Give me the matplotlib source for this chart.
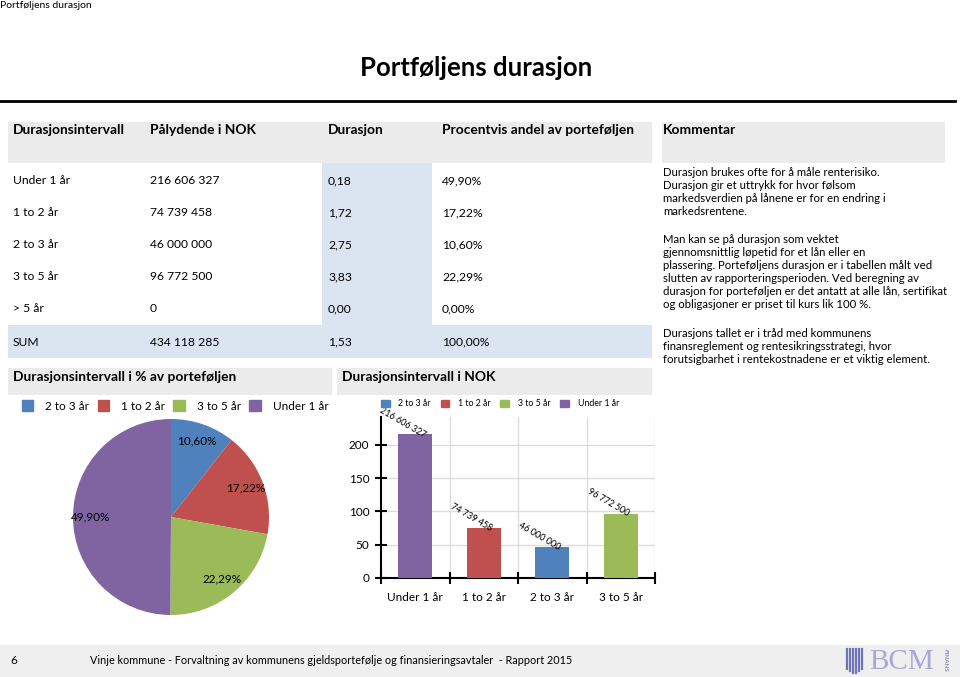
import matplotlib
matplotlib.use("Agg")
import matplotlib.pyplot as plt
from matplotlib.patches import Rectangle, Patch

plt.rcParams["font.family"] = ["Lato", "DejaVu Sans"]

# table data
headers = ["Durasjonsintervall", "Pålydende i NOK", "Durasjon", "Procentvis andel av porteføljen"]
intervals = ["Under 1 år", "1 to 2 år", "2 to 3 år", "3 to 5 år", "> 5 år", "SUM"]
nominal = ["216 606 327", "74 739 458", "46 000 000", "96 772 500", "0", "434 118 285"]
duration = ["0,18", "1,72", "2,75", "3,83", "0,00", "1,53"]
share = ["49,90%", "17,22%", "10,60%", "22,29%", "0,00%", "100,00%"]

# pie data (clockwise from top)
pie_labels = ["2 to 3 år", "1 to 2 år", "3 to 5 år", "Under 1 år"]
pie_shares = [10.60, 17.22, 22.29, 49.90]

# bar data (NOK)
bar_cats = ["Under 1 år", "1 to 2 år", "2 to 3 år", "3 to 5 år"]
bar_nok = [216606327, 74739458, 46000000, 96772500]

comment = [
    "Durasjon brukes ofte for å måle renterisiko.",
    "Durasjon gir et uttrykk for hvor følsom",
    "markedsverdien på lånene er for en endring i",
    "markedsrentene.",
    "",
    "Man kan se på durasjon som vektet",
    "gjennomsnittlig løpetid for et lån eller en",
    "plassering. Porteføljens durasjon er i tabellen målt ved",
    "slutten av rapporteringsperioden. Ved beregning av",
    "durasjon for porteføljen er det antatt at alle lån, sertifikat",
    "og obligasjoner er priset til kurs lik 100 %.",
    "",
    "Durasjons tallet er i tråd med kommunens",
    "finansreglement og rentesikringsstrategi, hvor",
    "forutsigbarhet i rentekostnadene er et viktig element.",
]

colors = {"2 to 3 år": "#4f81bd", "1 to 2 år": "#c0504d",
          "3 to 5 år": "#9bbb59", "Under 1 år": "#8064a2"}
GRAY = "#ebebeb"
BLUE = "#dbe5f1"

W, H = 960, 677
fig = plt.figure(figsize=(W / 100, H / 100), dpi=100)
bg = fig.add_axes([0, 0, 1, 1])
bg.set_xlim(0, W); bg.set_ylim(H, 0); bg.axis("off")


def box(x0, y0, x1, y1, c):
    bg.add_patch(Rectangle((x0, y0), x1 - x0, y1 - y0, color=c, lw=0, zorder=0))


bg.text(0, 6, "Portføljens durasjon", fontsize=7.5, va="center")
bg.text(476, 68, "Portføljens durasjon", fontsize=18.5, fontweight="bold", ha="center", va="center")
bg.plot([0, 955], [101, 101], color="black", lw=2)

# table
box(8, 122, 652, 163, GRAY)
box(662, 122, 945, 163, GRAY)
box(322, 163, 432, 325, BLUE)
box(8, 325, 652, 358, BLUE)
cols = [13, 150, 328, 442]
for x, h in zip(cols, headers):
    bg.text(x, 130, h, fontsize=9.9, fontweight="bold", va="center")
bg.text(663, 130, "Kommentar", fontsize=9.9, fontweight="bold", va="center")
row_y = [181, 213, 245, 277, 309, 342]
for i, y in enumerate(row_y):
    for x, v in zip(cols, [intervals[i], nominal[i], duration[i], share[i]]):
        bg.text(x, y, v, fontsize=8.7, va="center")

# comments
for i, line in enumerate(comment):
    y = 172 + i * 13.1 + (2 if i > 4 else 0) + (2 if i > 11 else 0)
    bg.text(663, y, line, fontsize=8.2, va="center")

# section headers
box(8, 368, 332, 395, GRAY)
box(337, 368, 652, 395, GRAY)
bg.text(13, 377, "Durasjonsintervall i % av porteføljen", fontsize=9.9, fontweight="bold", va="center")
bg.text(342, 377, "Durasjonsintervall i NOK", fontsize=9.9, fontweight="bold", va="center")

# pie
pax = fig.add_axes([73 / W, (H - 615) / H, 196 / W, 196 / H])
pct = [f"{v:.2f}%".replace(".", ",") for v in pie_shares]
wedges, texts = pax.pie(pie_shares, colors=[colors[l] for l in pie_labels], startangle=90,
                        counterclock=False, labels=pct, labeldistance=0.82,
                        textprops=dict(fontsize=8.5, ha="center", va="center"))
pax.set_xlim(-1, 1); pax.set_ylim(-1, 1); pax.set_aspect("auto")
fig.legend([Patch(color=colors[l]) for l in pie_labels], pie_labels, loc="center left",
           bbox_to_anchor=(11 / W, 1 - 406 / H), ncol=4, frameon=False, fontsize=8.5,
           handlelength=1.0, handleheight=1.0, handletextpad=1.0, columnspacing=0.7)

# bars
bax = fig.add_axes([381 / W, (H - 578) / H, (655 - 381) / W, (578 - 417) / H])
vals = [v / 1e6 for v in bar_nok]
xs = range(len(bar_cats))
bax.bar(xs, vals, width=0.5, color=[colors[c] for c in bar_cats], zorder=3)
for x, v, n in zip(xs, vals, bar_nok):
    bax.annotate(f"{n:,}".replace(",", " "), (x, v), xytext=(-9, 8), textcoords="offset points",
                 ha="center", va="center", rotation=-30, fontsize=6.5, zorder=4)
bax.set_xlim(-0.5, 3.5); bax.set_ylim(0, 242)
bax.set_yticks([0, 50, 100, 150, 200])
bax.set_xticks(list(xs)); bax.set_xticklabels(bar_cats)
bax.set_xticks([-0.5, 0.5, 1.5, 2.5, 3.5], minor=True)
bax.tick_params(axis="x", which="major", length=0, pad=10, labelsize=8.5)
bax.tick_params(axis="x", which="minor", direction="inout", length=9, width=1.5)
bax.tick_params(axis="y", direction="inout", length=9, width=1.5, labelsize=8.5, pad=4)
bax.grid(axis="y", color="#dddddd", lw=1, zorder=0)
for b in [0.5, 1.5, 2.5, 3.5]:
    bax.axvline(b, color="#dddddd", lw=1, zorder=0)
for s in ["top", "right"]:
    bax.spines[s].set_visible(False)
for s in ["left", "bottom"]:
    bax.spines[s].set_linewidth(1.5)
bax.patch.set_alpha(0)
fig.legend([Patch(color=colors[l]) for l in pie_labels], pie_labels, loc="center left",
           bbox_to_anchor=(373 / W, 1 - 404 / H), ncol=4, frameon=False, fontsize=6.3,
           handlelength=1.0, handleheight=1.0, handletextpad=1.0, columnspacing=1.1)

# footer
box(0, 645, W, H, "#efefef")
bg.text(10, 661, "6", fontsize=8.5, va="center")
bg.text(90, 661, "Vinje kommune - Forvaltning av kommunens gjeldsportefølje og finansieringsavtaler  - Rapport 2015",
        fontsize=7.85, va="center")
for i, h in enumerate([20, 22, 24, 24, 22, 20]):
    x = 847 + i * 3
    bg.plot([x, x], [649, 649 + h], color="#6f74b8", lw=1.6)
bg.text(902, 662, "BCM", fontsize=21, family="Liberation Serif", color="#a6a9d6", ha="center", va="center")
bg.text(945, 660, "FINANS", fontsize=4.5, fontweight="bold", color="#8a8ec4", rotation=270,
        ha="center", va="center")

fig.savefig("out.png", dpi=100)
